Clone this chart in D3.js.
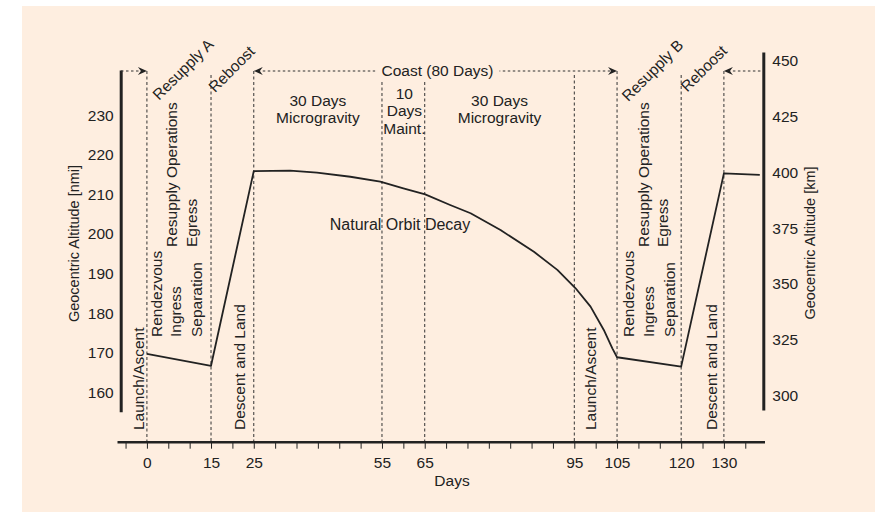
<!DOCTYPE html>
<html>
<head>
<meta charset="utf-8">
<script src="https://cdn.jsdelivr.net/npm/d3@7"></script>
<style>
  body { margin: 0; background: #fff; }
  svg { display: block; font-family: "Liberation Sans", Arial, Helvetica, sans-serif; }
  .axis text { font-size: 15.5px; fill: #222; }
</style>
</head>
<body>
<div id="chart"></div>
<script>
'use strict';

// phase boundaries (days) labelled on the x axis
const keyDays = [0, 15, 25, 55, 65, 95, 105, 120, 130];
const nmiTicks = [160, 170, 180, 190, 200, 210, 220, 230];
const kmTicks = [300, 325, 350, 375, 400, 425, 450];

// altitude profile
const orbitDays = [0, 15, 25, 33.5, 39.8, 47.6, 54.6, 60, 65.1, 70.1, 74.2, 80.2, 86.9, 91.6, 95.3, 98.8, 101.9, 103.9, 105, 120, 130, 138.4];
const orbitKm = [318.8, 313.5, 400.4, 400.6, 399.7, 397.9, 395.7, 392.7, 390.0, 385.3, 381.6, 374.1, 364.4, 356.3, 348.1, 339.9, 329.5, 321.3, 317.3, 313.1, 399.4, 398.7];

const phaseTitles = ['Resupply A', 'Reboost', 'Resupply B', 'Reboost'];
const blockTitles = [['30 Days', 'Microgravity'], ['10', 'Days', 'Maint.'], ['30 Days', 'Microgravity']];

const width = 875, height = 512;
const ink = '#222';
const paper = '#feeee0';
const fs = '15.5px';

const svg = d3.select('#chart').append('svg')
    .attr('width', width)
    .attr('height', height);

svg.append('rect')
    .attr('x', 22).attr('y', 6)
    .attr('width', width - 22).attr('height', height - 6)
    .attr('fill', paper);

// the drawing is schematic: the axis has a tick every 5 days, but the
// 65..95 stretch takes 7 ticks instead of 6
const slotScale = d3.scaleLinear().domain([0, 65, 95, 140]).range([0, 13, 20, 29]);
const xSlot = d3.scaleLinear().domain([-1.4, 28.9]).range([117, 764.5]);
const x = d => xSlot(slotScale(d));

const yNmi = d3.scaleLinear().domain([155.1, 241.4]).range([411.7, 70]);
const yKm = d3.scaleLinear().domain([293.75, 453.6]).range([410, 52]);

const axisY = 441.7;

// vertical dashed phase lines
let lineTops = [71, 75, 71, 82, 82, 75, 71, 75, 71];
svg.append('g').selectAll('line')
    .data(keyDays)
    .join('line')
    .attr('x1', d => x(d)).attr('x2', d => x(d))
    .attr('y1', (d, i) => lineTops[i])
    .attr('y2', axisY)
    .attr('stroke', '#333')
    .attr('stroke-width', 1)
    .attr('stroke-dasharray', '3,2.5');

// bottom axis
let labelSlots = new Map(keyDays.map(d => [Math.round(slotScale(d)), d]));
let xAxis = d3.axisBottom(xSlot)
    .tickValues(d3.range(-1, 29))
    .tickSize(7)
    .tickSizeOuter(0)
    .tickPadding(8)
    .tickFormat(s => labelSlots.has(s) ? labelSlots.get(s) : '');

let gx = svg.append('g')
    .attr('class', 'axis')
    .attr('transform', `translate(0,${axisY})`)
    .call(xAxis);
gx.select('.domain').attr('stroke', ink).attr('stroke-width', 2.5);
gx.selectAll('.tick line').attr('stroke', ink);

svg.append('text')
    .attr('x', 452).attr('y', 486)
    .attr('text-anchor', 'middle')
    .style('font-size', fs).style('fill', ink)
    .text('Days');

// left axis (nmi)
let gl = svg.append('g')
    .attr('class', 'axis')
    .attr('transform', 'translate(120.7,0)')
    .call(d3.axisLeft(yNmi).tickValues(nmiTicks).tickSize(0).tickPadding(7));
gl.select('.domain').attr('stroke', ink).attr('stroke-width', 3);

svg.append('text')
    .attr('transform', 'translate(79,243.5) rotate(-90)')
    .attr('text-anchor', 'middle')
    .style('font-size', '14.5px').style('fill', ink)
    .text('Geocentric Altitude [nmi]');

// right axis (km)
let gr = svg.append('g')
    .attr('class', 'axis')
    .attr('transform', 'translate(763.3,0)')
    .call(d3.axisRight(yKm).tickValues(kmTicks).tickSize(0).tickPadding(9));
gr.select('.domain').attr('stroke', ink).attr('stroke-width', 3);

svg.append('text')
    .attr('transform', 'translate(815,243) rotate(-90)')
    .attr('text-anchor', 'middle')
    .style('font-size', '14.5px').style('fill', ink)
    .text('Geocentric Altitude [km]');

// altitude profile
let profile = d3.line()
    .x((d, i) => x(orbitDays[i]))
    .y(d => yKm(d));

svg.append('path')
    .attr('d', profile(orbitKm))
    .attr('fill', 'none')
    .attr('stroke', ink)
    .attr('stroke-width', 1.8)
    .attr('stroke-linejoin', 'round');

// dotted arrows along the top
let arrowY = 71;
function dotted(x1, x2) {
    svg.append('line')
        .attr('x1', x1).attr('x2', x2)
        .attr('y1', arrowY).attr('y2', arrowY)
        .attr('stroke', '#333')
        .attr('stroke-width', 1.1)
        .attr('stroke-dasharray', '2.5,2.5');
}
function arrowHead(tipX, dir) {
    svg.append('path')
        .attr('d', 'M0,0 L-9,-4 L-6,0 L-9,4 Z')
        .attr('transform', `translate(${tipX},${arrowY}) scale(${dir},1)`)
        .attr('fill', ink);
}

dotted(121, x(0) - 4);
arrowHead(x(0), 1);

dotted(x(25) + 4, x(105) - 4);
arrowHead(x(25), -1);
arrowHead(x(105), 1);

dotted(x(130) + 4, 762);
arrowHead(x(130), -1);

let coastX = 437.5;
svg.append('rect')
    .attr('x', coastX - 62).attr('y', 62)
    .attr('width', 124).attr('height', 18)
    .attr('fill', paper);
svg.append('text')
    .attr('x', coastX).attr('y', 76)
    .attr('text-anchor', 'middle')
    .style('font-size', fs).style('fill', ink)
    .text('Coast (80 Days)');

// diagonal phase titles
let diagPos = [[159, 101], [215, 93.3], [628.3, 102.3], [687.3, 92.7]];
svg.append('g').selectAll('text')
    .data(phaseTitles)
    .join('text')
    .attr('transform', (d, i) => `translate(${diagPos[i][0]},${diagPos[i][1]}) rotate(-45)`)
    .style('font-size', fs).style('fill', ink)
    .text(d => d);

// block titles between the phase lines
let blockX = [(x(25) + x(55)) / 2, (x(55) + x(65)) / 2 + 1, (x(65) + x(95)) / 2];
let blockBase = [[105.5, 122.5], [98.5, 116, 133.5], [105.5, 122.5]];
blockTitles.forEach((lines, i) => {
    lines.forEach((t, j) => {
        svg.append('text')
            .attr('x', blockX[i]).attr('y', blockBase[i][j])
            .attr('text-anchor', 'middle')
            .style('font-size', fs).style('fill', ink)
            .text(t);
    });
});

svg.append('text')
    .attr('x', 400).attr('y', 230)
    .attr('text-anchor', 'middle')
    .style('font-size', '16px').style('fill', ink)
    .text('Natural Orbit Decay');

// vertical phase labels, read bottom to top
function vlabel(text, bx, by) {
    svg.append('text')
        .attr('transform', `translate(${bx},${by}) rotate(-90)`)
        .style('font-size', fs).style('fill', ink)
        .text(text);
}

// first resupply
vlabel('Launch/Ascent', x(0) - 3, 430);
vlabel('Rendezvous', x(0) + 14.8, 337);
vlabel('Ingress', x(0) + 33.6, 337);
vlabel('Separation', x(15) - 9.5, 337);
vlabel('Resupply Operations', x(0) + 30.1, 247);
vlabel('Egress', x(15) - 14.5, 247);
vlabel('Descent and Land', x(25) - 8.3, 430);

// second resupply
vlabel('Launch/Ascent', x(95) + 21.5, 430);
vlabel('Rendezvous', x(105) + 17, 337);
vlabel('Ingress', x(105) + 37, 337);
vlabel('Separation', x(120) - 6, 337);
vlabel('Resupply Operations', x(105) + 32, 247);
vlabel('Egress', x(120) - 13, 247);
vlabel('Descent and Land', x(130) - 6.5, 430);
</script>
</body>
</html>
